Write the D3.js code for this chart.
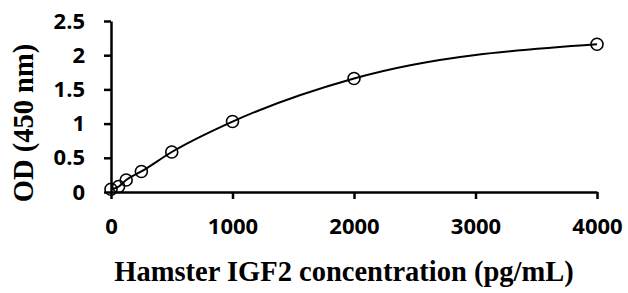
<!DOCTYPE html>
<html>
<head>
<meta charset="utf-8">
<script src="https://cdn.jsdelivr.net/npm/d3@7"></script>
<style>
  body { margin: 0; background: #fff; }
  .axis path, .axis line { stroke: #000; stroke-width: 2.5px; }
  .axis text { font-family: "Open Sans", sans-serif; font-weight: bold; font-size: 22px; fill: #000; }
  .title { font-family: "Liberation Serif", serif; font-weight: bold; font-size: 28.5px; fill: #000; }
</style>
</head>
<body>
<script>
// standard curve values
var conc = [0, 62.5, 125, 250, 500, 1000, 2000, 4000];
var od = [0.04, 0.08, 0.175, 0.3, 0.585, 1.03, 1.66, 2.16];
var xTicks = [0, 1000, 2000, 3000, 4000];
var yTicks = [0, 0.5, 1, 1.5, 2, 2.5];

var w = 628;
var h = 293;

var svg = d3.select("body")
    .append("svg")
    .attr("width", w)
    .attr("height", h);

var xScale = d3.scaleLinear()
    .domain([0, 4000])
    .range([111, 597]);

var yScale = d3.scaleLinear()
    .domain([0, 2.5])
    .range([192, 21]);

var xAxis = d3.axisBottom(xScale)
    .tickValues(xTicks)
    .tickFormat(d3.format("d"))
    .tickSize(7)
    .tickSizeOuter(0)
    .tickPadding(19);

var yAxis = d3.axisLeft(yScale)
    .tickValues(yTicks)
    .tickFormat(d => d)
    .tickSize(7)
    .tickSizeOuter(0)
    .tickPadding(19);

svg.append("g")
    .attr("class", "axis")
    .attr("transform", "translate(0," + yScale(0) + ")")
    .call(xAxis);

svg.append("g")
    .attr("class", "axis")
    .attr("transform", "translate(" + xScale(0) + ",0)")
    .call(yAxis);

var pts = conc.map((c, i) => [c, od[i]]);

var line = d3.line()
    .x(d => xScale(d[0]))
    .y(d => yScale(d[1]))
    .curve(d3.curveMonotoneX);

svg.append("path")
    .datum(pts)
    .attr("fill", "none")
    .attr("stroke", "#000")
    .attr("stroke-width", 2)
    .attr("d", line);

svg.selectAll("circle")
    .data(pts)
    .join("circle")
    .attr("cx", d => xScale(d[0]))
    .attr("cy", d => yScale(d[1]))
    .attr("r", 6)
    .attr("fill", "none")
    .attr("stroke", "#000")
    .attr("stroke-width", 1.6);

svg.append("text")
    .attr("class", "title")
    .attr("text-anchor", "middle")
    .attr("x", 344)
    .attr("y", 281)
    .text("Hamster IGF2 concentration (pg/mL)");

svg.append("text")
    .attr("class", "title")
    .attr("text-anchor", "middle")
    .attr("transform", "translate(33,123) rotate(-90)")
    .text("OD (450 nm)");
</script>
</body>
</html>
